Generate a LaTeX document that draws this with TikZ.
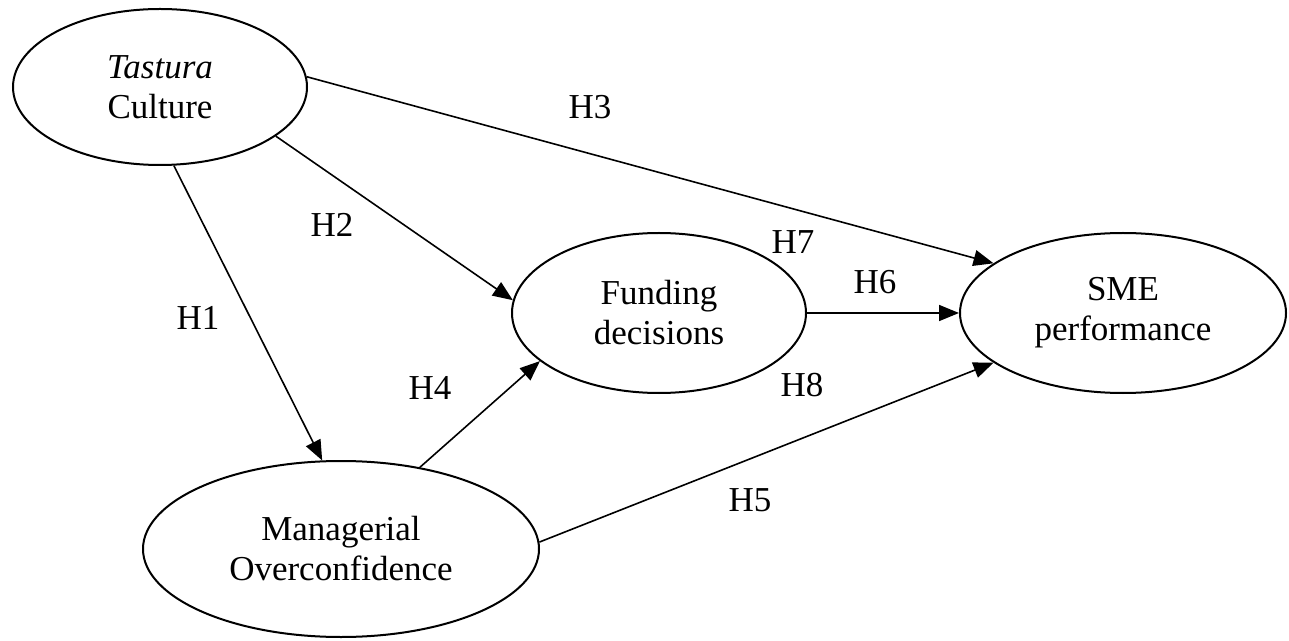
\documentclass[tikz,border=0pt]{standalone}
\usepackage{fontspec}
\setmainfont{Liberation Serif}
\usetikzlibrary{shapes.geometric,arrows.meta}
\begin{document}
\begin{tikzpicture}[x=0.5pt,y=-0.5pt,
  ell/.style={draw,ellipse,line width=1pt,inner sep=0pt,align=center,font=\fontsize{17.5}{20}\selectfont},
  lab/.style={font=\fontsize{17.5}{20}\selectfont,inner sep=0pt},
  conn/.style={line width=0.8pt,-{Triangle[length=10pt,width=8pt]}}]
\useasboundingbox (0,0) rectangle (1289,641);
\node[ell,minimum width=147pt,minimum height=78pt] (tc) at (160,87) {\textit{Tastura}\\Culture};
\node[ell,minimum width=147pt,minimum height=80pt] (fd) at (659,313) {Funding\\decisions};
\node[ell,minimum width=163pt,minimum height=80pt] (sp) at (1123,313) {SME\\performance};
\node[ell,minimum width=198pt,minimum height=88pt] (mo) at (341,549) {Managerial\\Overconfidence};
\draw[conn] (tc.-80.5) -- (mo.102.3);
\draw[conn] (tc.-23.1) -- (fd.175);
\draw[conn] (tc.4.7) -- (sp.159);
\draw[conn] (mo.46.8) -- (fd.-158);
\draw[conn] (mo.2.6) -- (sp.-159.6);
\draw[conn] (fd.east) -- (sp.west);
\node[lab] (h1) at (198,318) {H1};
\node[lab] (h2) at (332,225) {H2};
\node[lab] (h3) at (590,107) {H3};
\node[lab] (h4) at (430,388) {H4};
\node[lab] (h5) at (750,500) {H5};
\node[lab] (h6) at (875,282) {H6};
\node[lab] (h7) at (793,242) {H7};
\node[lab] (h8) at (802,385) {H8};
\end{tikzpicture}
\end{document}
